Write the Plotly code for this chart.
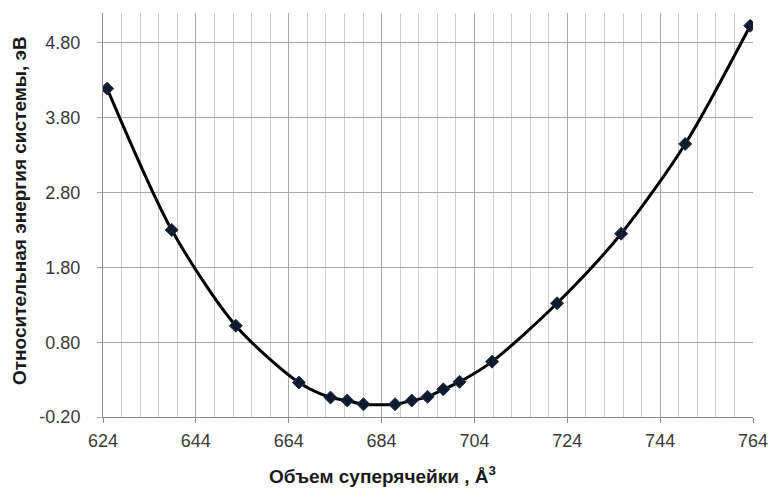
import plotly.graph_objects as go

volume = [624.9, 638.8, 652.6, 666.2, 673.0, 676.6, 680.1, 686.9, 690.5, 693.9,
          697.3, 700.8, 707.8, 721.8, 735.6, 749.4, 763.4]
energy = [4.19, 2.30, 1.02, 0.26, 0.06, 0.02, -0.03, -0.03, 0.02, 0.07,
          0.17, 0.27, 0.54, 1.32, 2.25, 3.45, 5.03]

x_ticks = [624, 644, 664, 684, 704, 724, 744, 764]
y_ticks = [-0.20, 0.80, 1.80, 2.80, 3.80, 4.80]

x_title = "Объем суперячейки , Å<sup>3</sup>"
y_title = "Относительная энергия системы, эВ"

FONT = "Liberation Sans, Arial, sans-serif"

fig = go.Figure()
fig.add_trace(go.Scatter(
    x=volume, y=energy, mode="lines+markers",
    line=dict(color="#000000", width=3, shape="spline", smoothing=0.8),
    marker=dict(symbol="diamond", size=10, color="#0e1a2e",
                line=dict(color="#1f3550", width=1)),
    showlegend=False, hoverinfo="x+y",
))

fig.update_layout(
    width=769, height=489, autosize=False,
    margin=dict(l=103, r=16, t=13, b=72),
    paper_bgcolor="white", plot_bgcolor="white",
    font=dict(family=FONT, size=18, color="#3a3a3a"),
    xaxis=dict(
        range=[624, 764], tickmode="array", tickvals=x_ticks,
        ticktext=[str(v) for v in x_ticks],
        showgrid=True, gridcolor="#a8a8a8", gridwidth=1,
        minor=dict(dtick=4, tick0=624, showgrid=True, gridcolor="#cdcdcd", gridwidth=1),
        ticks="outside", ticklen=5, tickcolor="#8c8c8c",
        showline=True, linecolor="#8c8c8c", linewidth=1,
        zeroline=False, ticklabelstandoff=2,
        automargin=False, ticklabeloverflow="allow",
    ),
    yaxis=dict(
        range=[-0.2, 5.2], tickmode="array", tickvals=y_ticks,
        ticktext=["%.2f" % v for v in y_ticks],
        showgrid=True, gridcolor="#a8a8a8", gridwidth=1,
        ticks="outside", ticklen=5, tickcolor="#a8a8a8",
        showline=True, linecolor="#8c8c8c", linewidth=1,
        zeroline=False, ticklabelstandoff=13,
        automargin=False, ticklabeloverflow="allow",
    ),
    annotations=[
        dict(text="<b>" + x_title + "</b>", xref="paper", yref="paper",
             x=(382 - 103) / 650, y=(417 - 475) / 404, showarrow=False,
             xanchor="center", yanchor="middle",
             font=dict(family=FONT, size=19, color="#1a1a1a")),
        dict(text="<b>" + y_title + "</b>", xref="paper", yref="paper",
             x=(19 - 103) / 650, y=(417 - 211) / 404, showarrow=False, textangle=-90,
             xanchor="center", yanchor="middle",
             font=dict(family=FONT, size=19, color="#1a1a1a")),
    ],
)

fig.write_html(
    "out.html",
    config={"displayModeBar": False, "responsive": False},
    post_script="document.body.style.margin='0';document.body.style.overflow='hidden';",
)
